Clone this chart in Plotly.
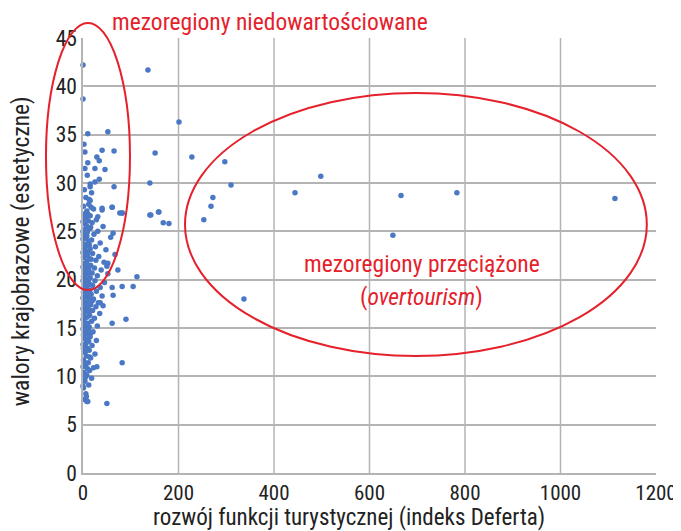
import plotly.graph_objects as go

# ---- data ----
dense_x = [3,10,6,1,12,4,18,8,2,14,22,
           5,11,1,16,7,25,3,13,9,
           2,19,6,12,28,4,15,1,9,21,7,3,13,30,
           5,10,18,2,24,8,14,1,35,6,20,11,3,27,16,
           7,32,2,12,22,5,40,9,17,1,28,14,4,36,8,20,2,45,11,25,
           6,15,1,30,9,52,19,3,38,12,24,5,16,2,44,8,27,13,1,33,6,20,10,
           3,48,15,26,7,2,36,11,18,5,58,1,23,9,31,4,14,42,7,2,19,11,28,5,15,3,8,22,1,12,6,18,3,25,9,4,2,
           0,5,9,2,14,6,0,10,17,3,8,0,12,4,19,0,10,6,15,0,4,11,0,7,17,0,4,13,0,8,0,16,0,10,6,1,11,2,7,3,9,1,0,0,5,13,0,7]
dense_y = [7.6,7.4,8.2,8.8,9.1,9.5,9.8,10.1,10.4,10.6,10.9,
           11.2,11.4,11.7,11.9,12.1,12.3,12.5,12.7,12.9,
           13.1,13.2,13.4,13.6,13.7,13.9,14.1,14.3,14.4,14.6,14.8,15.0,15.1,15.2,
           15.4,15.5,15.7,15.8,16.0,16.1,16.3,16.4,16.5,16.7,16.8,17.0,17.1,17.2,17.4,
           17.5,17.6,17.7,17.9,18.0,18.2,18.3,18.4,18.5,18.7,18.8,18.9,19.1,19.2,19.3,19.4,19.6,19.7,19.8,19.9,
           20.1,20.2,20.3,20.4,20.6,20.6,20.7,20.9,21.0,21.1,21.2,21.4,21.5,21.7,21.8,21.9,22.0,22.2,22.3,22.4,22.6,22.7,22.9,
           23.0,23.1,23.2,23.4,23.5,23.7,23.8,24.0,24.1,24.3,24.4,24.6,24.7,24.9,25.0,25.2,25.3,25.5,25.6,25.8,25.9,26.1,26.2,26.4,26.6,26.8,27.1,27.3,27.6,27.8,28.5,29.0,29.3,30.1,30.8,31.5,34.0,
           9.0,9.9,10.8,11.5,12.0,12.6,13.3,13.9,14.5,14.6,15.3,15.9,16.6,17.3,17.8,18.1,18.6,19.0,19.5,19.9,20.5,20.8,21.3,21.6,22.1,22.8,23.3,23.6,24.2,24.5,25.0,25.4,26.0,26.8,10.2,12.9,14.9,16.9,18.8,21.0,22.5,24.8,17.0,14.9,13.0,18.2,11.0,7.9]

spread_x = [0,0,136,201,151,228,297,140,310,272,268,159,142,180,253,337,444,498,666,783,649,1114,
            10,52,4,40,65,29,10,34,25,46,34,15,15,65,13,17,40,61,10,31,82,
            15,40,61,82,140,158,168,63,67,50,73,113,105,82,61,63,42,36,61,90,82,29,50,8,77,52]
spread_y = [42.2,38.7,41.7,36.3,33.1,32.7,32.2,30.0,29.8,28.5,27.6,27.0,26.7,25.8,26.2,18.0,29.0,30.7,28.7,29.0,24.6,28.4,
            35.1,35.3,33.2,33.4,33.3,32.7,32.1,32.3,31.5,31.4,30.4,29.9,29.6,29.6,28.3,27.5,27.4,27.5,26.7,26.5,26.9,
            28.2,27.2,27.5,26.9,26.7,27.0,25.9,24.8,22.6,21.4,21.0,20.3,19.3,19.3,19.2,18.4,17.3,17.6,15.5,15.9,11.4,11.0,7.2,7.4,26.9,21.7]

x_ticks = [0, 200, 400, 600, 800, 1000, 1200]
y_ticks = [0, 5, 10, 15, 20, 25, 30, 35, 40, 45]

x_title = "rozwój funkcji turystycznej (indeks Deferta)"
y_title = "walory krajobrazowe (estetyczne)"
label_under = "mezoregiony niedowartościowane"
label_over = "mezoregiony przeciążone"
label_over2 = "(<i>overtourism</i>)"

FONT = "Roboto Condensed, Liberation Sans Narrow, Arial Narrow, DejaVu Sans Condensed, Roboto, sans-serif"
RED = "#e5212b"
BLUE = "#4a78c4"
GRID = "#b4b4b4"
TXT = "#222222"

fig = go.Figure()
fig.add_trace(go.Scatter(x=dense_x + spread_x, y=dense_y + spread_y, mode="markers",
                         marker=dict(color=BLUE, size=5.5, line=dict(width=0)),
                         cliponaxis=False, showlegend=False))

fig.update_layout(
    width=681, height=531,
    margin=dict(l=75, r=33, t=30, b=66, autoexpand=False),
    plot_bgcolor="white", paper_bgcolor="white",
    font=dict(family=FONT, color=TXT),
    xaxis=dict(range=[0, 1200], tickvals=x_ticks, showgrid=False, automargin=False,
               showline=True, linecolor=GRID, linewidth=1.5, zeroline=False, ticks="",
               tickfont=dict(size=21, family=FONT, color=TXT)),
    yaxis=dict(range=[0, 45], tickvals=y_ticks, showgrid=True, gridcolor=GRID, gridwidth=1.5, automargin=False,
               showline=True, linecolor=GRID, linewidth=1.5, zeroline=False, ticks="",
               tickfont=dict(size=21.5, family=FONT, color=TXT)),
)

# vertical grid lines at the inner x ticks (reference shows none at the right edge)
for xv in x_ticks[1:-1]:
    fig.add_shape(type="line", xref="x", yref="paper", x0=xv, x1=xv, y0=0, y1=1,
                  line=dict(color=GRID, width=1.5), layer="below")

fig.add_shape(type="circle", xref="paper", yref="paper", x0=-0.0646, x1=0.082, y0=0.4207, y1=1.0345,
              line=dict(color=RED, width=2))
fig.add_shape(type="circle", xref="paper", yref="paper", x0=0.178, x1=0.984, y0=0.269, y1=0.8736,
              line=dict(color=RED, width=2))

def note(text, x, y, size, color, angle=0):
    fig.add_annotation(xref="paper", yref="paper", x=x, y=y, text=text, textangle=angle,
                       xanchor="center", yanchor="middle", showarrow=False,
                       font=dict(size=size, color=color, family=FONT))

note(label_under, 0.3255, 1.036, 23.5, RED)
note(label_over, 0.591, 0.480, 23.5, RED)
note(label_over2, 0.591, 0.404, 23.5, RED)
note(x_title, 0.464, -0.103, 23, TXT)
note(y_title, -0.1082, 0.510, 23.5, TXT, angle=-90)

fig.write_html("out.html")
